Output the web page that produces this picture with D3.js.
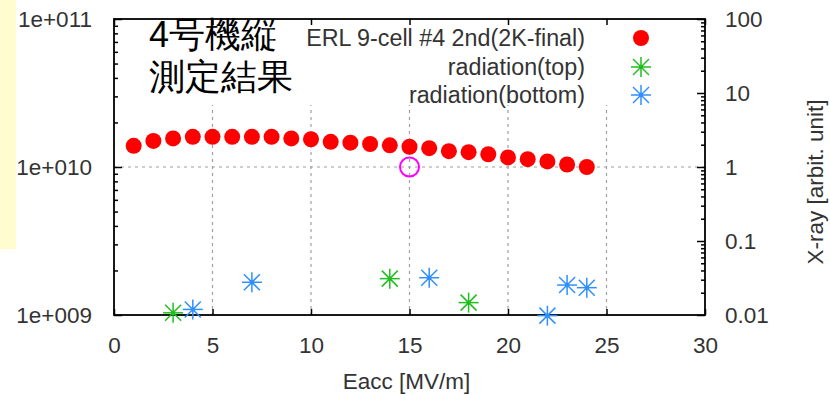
<!DOCTYPE html>
<html>
<head>
<meta charset="utf-8">
<script src="https://cdn.jsdelivr.net/npm/d3@7"></script>
<style>
  html, body { margin: 0; padding: 0; background: #fff; }
  svg { display: block; }
  text { font-family: "Liberation Sans", Arial, sans-serif; }
</style>
</head>
<body>
<svg id="chart" width="830" height="395"></svg>
<script>
// Q0 vs accelerating field, ERL 9-cell #4 (2nd vertical test, 2K final)
const eacc = [1, 2, 3, 4, 5, 6, 7, 8, 9, 10, 11, 12, 13, 14, 15, 16, 17, 18, 19, 20, 21, 22, 23, 24];
const q0 = [1.39e10, 1.50e10, 1.56e10, 1.60e10, 1.60e10, 1.60e10, 1.60e10, 1.60e10, 1.56e10, 1.54e10,
            1.48e10, 1.46e10, 1.43e10, 1.40e10, 1.37e10, 1.34e10, 1.28e10, 1.26e10, 1.22e10, 1.16e10,
            1.13e10, 1.09e10, 1.04e10, 1.00e10];

// X-ray monitors (right axis)
const topEacc = [3, 14, 18];
const topXray = [0.0107, 0.031, 0.0147];
const bottomEacc = [4, 7, 16, 22, 23, 24];
const bottomXray = [0.0119, 0.0277, 0.0319, 0.0098, 0.0254, 0.0234];

// specification point
const specEacc = [15];
const specQ0 = [1e10];

// axes
const xTicks = [0, 5, 10, 15, 20, 25, 30];
const leftTicks = [1e9, 1e10, 1e11];
const leftLabels = ["1e+009", "1e+010", "1e+011"];
const rightTicks = [0.01, 0.1, 1, 10, 100];
const rightLabels = ["0.01", "0.1", "1", "10", "100"];

const legendLabels = ["ERL 9-cell #4 2nd(2K-final)", "radiation(top)", "radiation(bottom)"];
const titleLines = ["4号機縦", "測定結果"];

const colRed = "#ff0000", colGreen = "#1fbf1f", colBlue = "#2f8fff", colMag = "#ff00ff";
const textCol = "#333";
const FS = 22.5;

const svg = d3.select("#chart");
const L = 114, R = 705, T = 19, B = 315;

const x = d3.scaleLinear().domain([0, 30]).range([L, R]);
const yL = d3.scaleLog().domain([1e9, 1e11]).range([B, T]);
const yR = d3.scaleLog().domain([0.01, 100]).range([B, T]);

// pale side strip
svg.append("rect").attr("x", 0).attr("y", 0).attr("width", 16).attr("height", 249).attr("fill", "#fffcd0");

// grid
const grid = svg.append("g").attr("stroke", "#a0a0a0").attr("stroke-width", 1.2).attr("stroke-dasharray", "3,4");
grid.selectAll("line.v").data(xTicks.slice(1, -1)).join("line")
  .attr("x1", d => x(d)).attr("x2", d => x(d)).attr("y1", T).attr("y2", B);
grid.selectAll("line.h").data([1e10]).join("line")
  .attr("x1", L).attr("x2", R).attr("y1", d => yL(d)).attr("y2", d => yL(d));

// opaque key area
svg.append("rect").attr("x", L + 1).attr("y", T + 1).attr("width", R - L - 2).attr("height", 85).attr("fill", "#fff");

// axes via d3.axis, ticks pointing inward
function styleAxis(g) {
  g.select(".domain").remove();
  g.selectAll(".tick line").attr("stroke", "#000").attr("stroke-width", 1.5);
  g.selectAll(".tick text").attr("font-size", FS).attr("fill", textCol)
    .attr("font-family", "'Liberation Sans', Arial, sans-serif");
}

svg.append("g").attr("transform", `translate(0,${B})`)
  .call(d3.axisBottom(x).tickValues(xTicks).tickFormat(d3.format("d")).tickSizeInner(-6).tickSizeOuter(0).tickPadding(22))
  .call(styleAxis);
svg.append("g").attr("transform", `translate(0,${T})`)
  .call(d3.axisTop(x).tickValues(xTicks).tickFormat("").tickSizeInner(-6).tickSizeOuter(0))
  .call(styleAxis);

const leftMinor = [];
for (let e = 1e9; e < 1e11; e *= 10) for (let m = 2; m <= 9; m++) leftMinor.push(m * e);
const rightMinor = [];
for (let e = 0.01; e < 100; e *= 10) for (let m = 2; m <= 9; m++) rightMinor.push(m * e);

svg.append("g").attr("transform", `translate(${L},0)`)
  .call(d3.axisLeft(yL).tickValues(leftMinor).tickFormat("").tickSizeInner(-4).tickSizeOuter(0))
  .call(styleAxis);
svg.append("g").attr("transform", `translate(${L},0)`)
  .call(d3.axisLeft(yL).tickValues(leftTicks).tickFormat((d, i) => leftLabels[i]).tickSizeInner(-8).tickSizeOuter(0).tickPadding(22))
  .call(styleAxis);
svg.append("g").attr("transform", `translate(${R},0)`)
  .call(d3.axisRight(yR).tickValues(rightMinor).tickFormat("").tickSizeInner(-4).tickSizeOuter(0))
  .call(styleAxis);
svg.append("g").attr("transform", `translate(${R},0)`)
  .call(d3.axisRight(yR).tickValues(rightTicks).tickFormat((d, i) => rightLabels[i]).tickSizeInner(-8).tickSizeOuter(0).tickPadding(20))
  .call(styleAxis);

// frame
svg.append("rect").attr("x", L).attr("y", T).attr("width", R - L).attr("height", B - T)
  .attr("fill", "none").attr("stroke", "#000").attr("stroke-width", 1.8);

// axis titles
svg.append("text").attr("x", (L + R) / 2 - 3).attr("y", 389).attr("text-anchor", "middle")
  .attr("font-size", FS).attr("fill", textCol).text("Eacc [MV/m]");
svg.append("text").attr("transform", `translate(823,182) rotate(-90)`).attr("text-anchor", "middle")
  .attr("font-size", FS).attr("fill", textCol).text("X-ray [arbit. unit]");

// headline
svg.append("g").selectAll("text").data(titleLines).join("text")
  .attr("x", 149).attr("y", (d, i) => 47 + i * 42)
  .attr("font-family", "'Noto Sans CJK JP', 'Noto Sans', sans-serif")
  .attr("font-size", 36).attr("fill", "#000").text(d => d);

// star marker (+ and x overlaid, centre dot)
function star(g, cx, cy, col) {
  const a = 10, b = 8;
  const s = g.append("g").attr("stroke", col).attr("stroke-width", 1.5);
  s.append("line").attr("x1", cx - a).attr("x2", cx + a).attr("y1", cy).attr("y2", cy);
  s.append("line").attr("x1", cx).attr("x2", cx).attr("y1", cy - a).attr("y2", cy + a);
  s.append("line").attr("x1", cx - b).attr("x2", cx + b).attr("y1", cy - b).attr("y2", cy + b);
  s.append("line").attr("x1", cx - b).attr("x2", cx + b).attr("y1", cy + b).attr("y2", cy - b);
  g.append("circle").attr("cx", cx).attr("cy", cy).attr("r", 2.2).attr("fill", col);
}

// legend
const legY = [38, 67, 95];
svg.append("g").selectAll("text").data(legendLabels).join("text")
  .attr("x", 585).attr("y", (d, i) => legY[i]).attr("dy", "0.35em").attr("text-anchor", "end")
  .attr("font-size", 23.3).attr("fill", textCol).text(d => d);
svg.append("circle").attr("cx", 641).attr("cy", legY[0]).attr("r", 8).attr("fill", colRed);
star(svg, 641, legY[1], colGreen);
star(svg, 641, legY[2], colBlue);

// Q0 points
svg.append("g").selectAll("circle").data(eacc).join("circle")
  .attr("cx", d => x(d)).attr("cy", (d, i) => yL(q0[i])).attr("r", 8).attr("fill", colRed);

// specification marker
svg.append("g").selectAll("circle").data(specEacc).join("circle")
  .attr("cx", d => x(d)).attr("cy", (d, i) => yL(specQ0[i])).attr("r", 9.5)
  .attr("fill", "none").attr("stroke", colMag).attr("stroke-width", 2);

// radiation points
const rad = svg.append("g");
topEacc.forEach((e, i) => star(rad, x(e), yR(topXray[i]), colGreen));
bottomEacc.forEach((e, i) => star(rad, x(e), yR(bottomXray[i]), colBlue));
</script>
</body>
</html>
